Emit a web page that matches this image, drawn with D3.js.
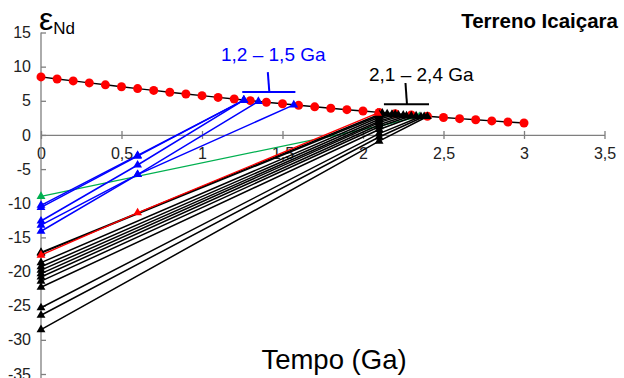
<!DOCTYPE html>
<html>
<head>
<meta charset="utf-8">
<script src="https://cdn.jsdelivr.net/npm/d3@7"></script>
<style>
  html, body { margin: 0; padding: 0; background: #fff; }
  svg { display: block; font-family: "Liberation Sans", Arial, sans-serif; }
</style>
</head>
<body>
<svg id="chart" width="624" height="378"></svg>
<script>
// Depleted mantle evolution curve (age in Ga, εNd)
const dmAge = [0, 0.1, 0.2, 0.3, 0.4, 0.5, 0.6, 0.7, 0.8, 0.9, 1.0, 1.1, 1.2, 1.3, 1.4, 1.5,
               1.6, 1.7, 1.8, 1.9, 2.0, 2.1, 2.2, 2.3, 2.4, 2.5, 2.6, 2.7, 2.8, 2.9, 3.0];
const dmEps = [8.5, 8.2, 7.91, 7.62, 7.34, 7.06, 6.79, 6.52, 6.26, 6.0, 5.75, 5.5, 5.26, 5.02, 4.79, 4.56,
               4.34, 4.12, 3.91, 3.7, 3.5, 3.3, 3.11, 2.92, 2.74, 2.56, 2.39, 2.22, 2.06, 1.9, 1.75];

// Samples: εNd today, εNd at the crystallisation age, model age (TDM) and εNd there
const blueAge = 0.6;
const blueEps0 = [-10.3, -10.6, -12.6, -13.2, -14.1];
const blueEpsT = [-3.0, -3.1, -4.4, -5.8, -5.8];
const blueTdm = [1.26, 1.26, 1.26, 1.35, 1.57];
const blueEpsDm = [5.1, 5.1, 5.1, 4.9, 4.4];

const redAge = 0.6;
const redEps0 = [-17.6];
const redEpsT = [-11.4];
const redTdm = [2.09];
const redEpsDm = [3.2];

const greenAge = 2.1;
const greenEps0 = [-9.0];
const greenEpsT = [1.3];
const greenTdm = [2.35];
const greenEpsDm = [2.7];

const blackAge = 2.1;
const blackEps0 = [-17.2, -17.3, -18.7, -19.3, -19.8, -20.3, -20.8, -21.4, -22.3, -25.3, -26.4, -28.5];
const blackEpsT = [3.0, 2.8, 2.6, 2.3, 2.0, 1.8, 1.5, 1.2, 0.8, 0.2, -0.3, -0.9];
const blackTdm = [2.12, 2.15, 2.18, 2.2, 2.22, 2.25, 2.27, 2.3, 2.33, 2.36, 2.38, 2.4];
const blackEpsDm = [3.2, 3.1, 3.0, 3.0, 2.9, 2.9, 2.8, 2.8, 2.8, 2.7, 2.7, 2.7];

const xTicks = [0, 0.5, 1, 1.5, 2, 2.5, 3, 3.5];
const yTicks = [15, 10, 5, 0, -5, -10, -15, -20, -25, -30, -35];

const svg = d3.select("#chart");
const x = d3.scaleLinear().domain([0, 3.5]).range([41, 604.5]);
const y = d3.scaleLinear().domain([-35, 15]).range([374, 32.5]);
const fmt = d => String(d).replace(".", ",");

// Axes crossing at the origin
const axisColor = "#7f7f7f";
const gx = svg.append("g").attr("transform", `translate(0,${y(0)})`)
  .call(d3.axisBottom(x).tickValues(xTicks).tickFormat(fmt).tickSizeInner(4).tickSizeOuter(0).tickPadding(9));
gx.select(".domain").attr("stroke", axisColor).attr("stroke-width", 1.3);
gx.selectAll(".tick line").attr("stroke", axisColor).attr("stroke-width", 1.3).attr("y1", -4);
gx.selectAll(".tick text").attr("font-size", 16).attr("fill", "#222").attr("font-family", "Liberation Sans, Arial, sans-serif");

const gy = svg.append("g").attr("transform", `translate(${x(0)},0)`)
  .call(d3.axisLeft(y).tickValues(yTicks).tickFormat(d => d).tickSizeInner(4).tickSizeOuter(0).tickPadding(6));
gy.select(".domain").attr("stroke", axisColor).attr("stroke-width", 1.3)
  .attr("d", `M0,${y(15)}V378`);
gy.selectAll(".tick line").attr("stroke", axisColor).attr("stroke-width", 1.3).attr("x2", 5);
gy.selectAll(".tick text").attr("font-size", 16).attr("fill", "#222").attr("font-family", "Liberation Sans, Arial, sans-serif");

// Depleted mantle curve
const dm = dmAge.map((t, i) => [t, dmEps[i]]);
const line = d3.line().x(d => x(d[0])).y(d => y(d[1]));
svg.append("path").datum(dm).attr("d", line)
  .attr("fill", "none").attr("stroke", "#000").attr("stroke-width", 1.4);
svg.append("g").selectAll("circle").data(dm).join("circle")
  .attr("cx", d => x(d[0])).attr("cy", d => y(d[1])).attr("r", 4.5).attr("fill", "#ff0000");

// Nd evolution lines of the samples
const tri = d3.symbol().type(d3.symbolTriangle).size(34);
function drawSet(age, eps0, epsT, tdm, epsDm, color, width) {
  const g = svg.append("g");
  eps0.forEach((e0, i) => {
    const pts = [[0, e0], [age, epsT[i]], [tdm[i], epsDm[i]]];
    g.append("path").datum(pts).attr("d", line)
      .attr("fill", "none").attr("stroke", color).attr("stroke-width", width);
    g.selectAll(null).data(pts).join("path")
      .attr("d", tri).attr("fill", color)
      .attr("transform", d => `translate(${x(d[0])},${y(d[1])})`);
  });
}
drawSet(greenAge, greenEps0, greenEpsT, greenTdm, greenEpsDm, "#00b050", 1.3);
drawSet(blueAge, blueEps0, blueEpsT, blueTdm, blueEpsDm, "#0000ff", 1.5);
drawSet(blackAge, blackEps0, blackEpsT, blackTdm, blackEpsDm, "#000000", 1.5);
drawSet(redAge, redEps0, redEpsT, redTdm, redEpsDm, "#ff0000", 1.3);

// Model age brackets
function bracket(t0, t1, yLine, stemTop, color, label, labelX, labelY) {
  const g = svg.append("g");
  const mid = (x(t0) + x(t1)) / 2;
  g.append("line").attr("x1", x(t0)).attr("x2", x(t1)).attr("y1", y(yLine)).attr("y2", y(yLine))
    .attr("stroke", color).attr("stroke-width", 2);
  g.append("line").attr("x1", mid - 1).attr("x2", mid + 0.5).attr("y1", y(stemTop)).attr("y2", y(yLine))
    .attr("stroke", color).attr("stroke-width", 2);
  g.append("text").attr("x", labelX).attr("y", labelY).attr("fill", color)
    .attr("font-size", 19).text(label);
}
bracket(1.25, 1.58, 6.3, 9.2, "#0000ff", "1,2 – 1,5 Ga", 221, 61);
bracket(2.13, 2.41, 4.5, 7.6, "#000000", "2,1 – 2,4 Ga", 369, 81);

// Titles
svg.append("text").attr("x", 618).attr("y", 28).attr("text-anchor", "end")
  .attr("font-size", 20.5).attr("font-weight", "bold").text("Terreno Icaiçara");
svg.append("text").attr("x", 334).attr("y", 369).attr("text-anchor", "middle")
  .attr("font-size", 27.5).text("Tempo (Ga)");
const yl = svg.append("text").attr("x", 39).attr("y", 30);
yl.append("tspan").attr("font-size", 32).text("ε");
yl.append("tspan").attr("font-size", 17).attr("dy", 4).text("Nd");
</script>
</body>
</html>
